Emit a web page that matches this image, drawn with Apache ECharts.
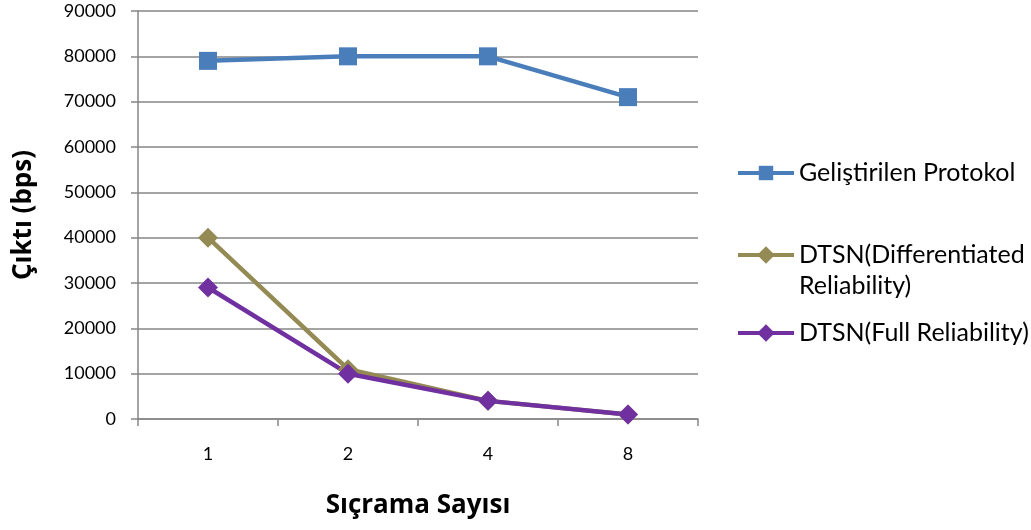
<!DOCTYPE html>
<html><head><meta charset="utf-8">
<script src="https://cdn.jsdelivr.net/npm/echarts@6/dist/echarts.min.js"></script>
<style>html,body{margin:0;padding:0;background:#fff}#c{width:1031px;height:530px}</style>
</head><body><div id="c"></div>
<script>
const categories = ['1', '2', '4', '8'];
const seriesNames = ['Geliştirilen Protokol', 'DTSN(Differentiated Reliability)', 'DTSN(Full Reliability)'];
const gelistirilen = [79000, 80000, 80000, 71000];
const dtsnDiff = [40000, 11000, 4000, 1000];
const dtsnFull = [29000, 10000, 4000, 1000];
const yTicks = { min: 0, max: 90000, interval: 10000 };

const FONT = 'Lato';
const LH = 31;
const chart = echarts.init(document.getElementById('c'));
function legendAt(top, name, h, extra) {
  return Object.assign({
    orient: 'vertical', left: 736, itemWidth: 56, itemHeight: h, itemGap: 0, padding: 0,
    top: top, data: [name],
    lineStyle: { width: 4 },
    textStyle: { fontFamily: FONT, fontSize: 25, color: '#000', lineHeight: LH }
  }, extra || {});
}
chart.setOption({
  animation: false,
  grid: { left: 138, right: 333, top: 11, bottom: 111 },
  legend: [
    legendAt(173 - LH / 2, seriesNames[0], 18),
    legendAt(255 - LH * 1.5, seriesNames[1], 22, { formatter: () => '\nDTSN(Differentiated\nReliability)' }),
    legendAt(333 - LH / 2, seriesNames[2], 22)
  ],
  xAxis: {
    type: 'category', data: categories, boundaryGap: true,
    name: 'Sıçrama Sayısı', nameLocation: 'middle', nameGap: 74,
    nameTextStyle: { fontFamily: 'Open Sans', fontSize: 26, fontWeight: 'bold', color: '#000' },
    axisLine: { lineStyle: { color: '#868686', width: 1.5 } },
    axisTick: { show: true, length: 7, alignWithLabel: false, lineStyle: { color: '#868686', width: 1.5 } },
    axisLabel: { fontFamily: FONT, fontSize: 18, color: '#000', margin: 26 }
  },
  yAxis: {
    type: 'value', min: yTicks.min, max: yTicks.max, interval: yTicks.interval,
    name: 'Çıktı (bps)', nameLocation: 'middle', nameGap: 101, nameRotate: 90,
    nameTextStyle: { fontFamily: 'Open Sans', fontSize: 26, fontWeight: 'bold', color: '#000' },
    axisLine: { show: true, lineStyle: { color: '#868686', width: 1.5 } },
    axisTick: { show: true, length: 7, lineStyle: { color: '#868686', width: 1.5 } },
    splitLine: { lineStyle: { color: '#868686', width: 1.5 } },
    axisLabel: { fontFamily: FONT, fontSize: 18, color: '#000', margin: 22, formatter: v => String(v) }
  },
  series: [
    { name: seriesNames[0], type: 'line', data: gelistirilen, symbol: 'rect', symbolSize: 18,
      color: '#4A7EBB', lineStyle: { width: 4.5 }, itemStyle: { color: '#4A7EBB' } },
    { name: seriesNames[1], type: 'line', data: dtsnDiff, symbol: 'diamond', symbolSize: 20,
      color: '#948A54', lineStyle: { width: 4.5 }, itemStyle: { color: '#948A54' } },
    { name: seriesNames[2], type: 'line', data: dtsnFull, symbol: 'diamond', symbolSize: 20,
      color: '#7030A0', lineStyle: { width: 4.5 }, itemStyle: { color: '#7030A0' } }
  ]
});
</script></body></html>
